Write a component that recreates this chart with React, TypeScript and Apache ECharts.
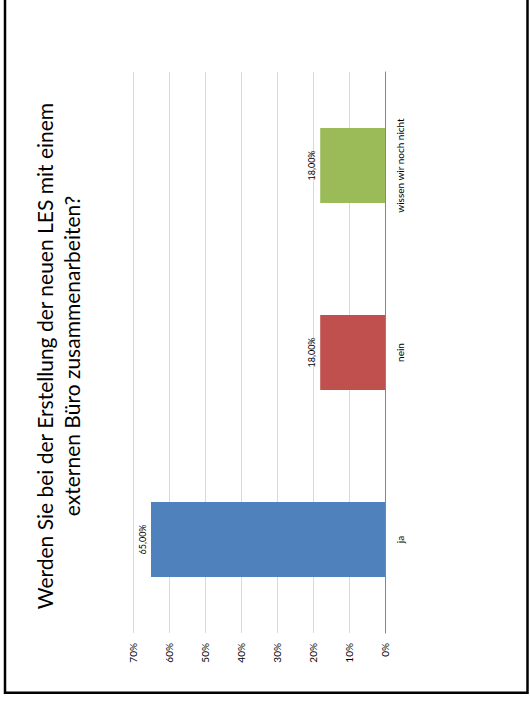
import React, { useEffect, useRef } from "react";
import * as echarts from "echarts";

const categories = ["ja", "nein", "wissen wir noch nicht"];
const values = [0.65, 0.18, 0.18];
const barColors = ["#4F81BD", "#C0504D", "#9BBB59"];
const valueTicks = [0, 0.1, 0.2, 0.3, 0.4, 0.5, 0.6, 0.7];
const titleLines = [
  "Werden Sie bei der Erstellung der neuen LES mit einem",
  "externen Büro zusammenarbeiten?",
];

const FONT = "Lato, Carlito, 'Open Sans', sans-serif";

export default function App() {
  const ref = useRef<HTMLDivElement>(null);
  useEffect(() => {
    if (!ref.current) return;
    const chart = echarts.init(ref.current, null, { renderer: "svg" });
    chart.setOption({
      animation: false,
      backgroundColor: "#ffffff",
      textStyle: { fontFamily: FONT },
      grid: { left: 133, right: 145, top: 72, bottom: 71, containLabel: false },
      xAxis: {
        type: "value",
        inverse: true,
        min: valueTicks[0],
        max: valueTicks[valueTicks.length - 1],
        interval: 0.1,
        axisLine: { show: false },
        axisTick: { show: false },
        splitLine: { show: true, lineStyle: { color: "#d9d9d9", width: 1 } },
        axisLabel: {
          rotate: 90,
          margin: 10,
          fontSize: 10,
          color: "#000000",
          fontFamily: FONT,
          formatter: (v: number) => Math.round(v * 100) + "%",
        },
      },
      yAxis: {
        type: "category",
        position: "right",
        data: categories,
        axisLine: { show: true, lineStyle: { color: "#868686", width: 1 } },
        axisTick: { show: false },
        splitLine: { show: false },
        axisLabel: {
          rotate: 90,
          margin: 10,
          fontSize: 10,
          color: "#000000",
          fontFamily: FONT,
        },
      },
      series: [
        {
          type: "bar",
          barWidth: 75,
          data: values.map((v, i) => ({ value: v, itemStyle: { color: barColors[i] } })),
          label: {
            show: true,
            position: "left",
            distance: 9,
            rotate: 90,
            align: "center",
            verticalAlign: "middle",
            fontSize: 9,
            color: "#000000",
            fontFamily: FONT,
            formatter: (p: any) => (p.value * 100).toFixed(2).replace(".", ",") + "%",
          },
        },
      ],
      graphic: [
        {
          type: "rect",
          shape: { x: 5, y: -10, width: 522.5, height: 702.7 },
          style: { fill: "none", stroke: "#000000", lineWidth: 2.5 },
          z: 100,
        },
        {
          type: "text",
          x: 58,
          y: 356,
          rotation: Math.PI / 2,
          style: {
            text: titleLines.join("\n"),
            font: "21px " + FONT,
            fill: "#000000",
            textAlign: "center",
            textVerticalAlign: "middle",
            lineHeight: 27,
          },
        },
      ],
    });
    return () => chart.dispose();
  }, []);
  return (
    <div
      ref={ref}
      style={{ position: "absolute", left: 0, top: 0, width: 530, height: 704 }}
    />
  );
}
